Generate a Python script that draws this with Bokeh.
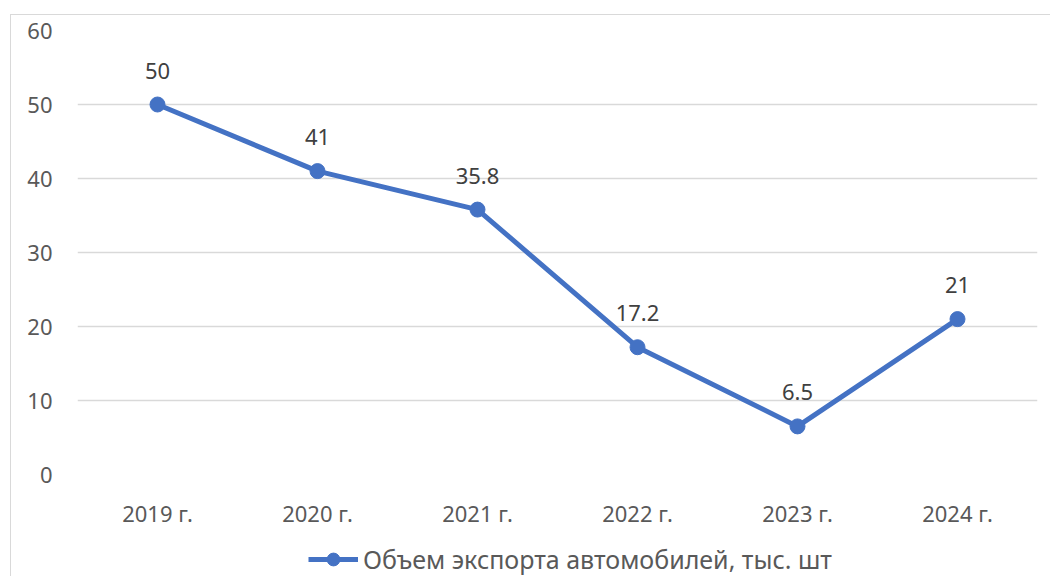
from bokeh.plotting import figure
from bokeh.models import ColumnDataSource, LabelSet, Legend, LegendItem, FactorRange, Range1d
from bokeh.layouts import column
from bokeh.core.properties import value
from bokeh.embed import file_html
from bokeh.resources import INLINE

years = ["2019 г.", "2020 г.", "2021 г.", "2022 г.", "2023 г.", "2024 г."]
values = [50, 41, 35.8, 17.2, 6.5, 21]
value_labels = ["50", "41", "35.8", "17.2", "6.5", "21"]
series_name = "Объем экспорта автомобилей, тыс. шт"

FONT = "Noto Sans"
BLUE = "#4472C4"

src = ColumnDataSource(dict(x=years, y=values, lab=value_labels))

p = figure(x_range=FactorRange(*years), y_range=Range1d(0, 60),
           width=1050, height=536, output_backend="svg", toolbar_location=None,
           min_border_left=77, min_border_right=13, min_border_top=30, min_border_bottom=62)
p.outline_line_color = None
p.background_fill_color = "white"
p.border_fill_color = None

p.xgrid.grid_line_color = None
p.ygrid.grid_line_color = "#d9d9d9"
p.ygrid.grid_line_width = 1.5
p.yaxis.ticker = [0, 10, 20, 30, 40, 50, 60]

for ax in (p.xaxis, p.yaxis):
    ax.axis_line_color = None
    ax.major_tick_line_color = None
    ax.minor_tick_line_color = None
    ax.major_tick_out = 0
    ax.major_tick_in = 0
    ax.minor_tick_out = 0
    ax.major_label_text_font = FONT
    ax.major_label_text_font_size = "22px"
    ax.major_label_text_color = "#595959"
p.xaxis.major_label_standoff = 23
p.yaxis.major_label_standoff = 25

p.line("x", "y", source=src, line_color=BLUE, line_width=5)
p.scatter("x", "y", source=src, size=15, fill_color=BLUE, line_color=BLUE)

labels = LabelSet(x="x", y="y", text="lab", source=src, y_offset=34,
                  text_align="center", text_baseline="middle",
                  text_font=value(FONT), text_font_size=value("22px"), text_color="#404040")
p.add_layout(labels)

# legend strip below the chart (series drawn out of view, only its legend is shown)
lg = figure(width=1050, height=40, output_backend="svg", toolbar_location=None,
            x_range=FactorRange(*years), y_range=Range1d(1000, 1001),
            x_axis_type=None, y_axis_type=None, min_border=0)
lg.outline_line_color = None
lg.background_fill_color = None
lg.border_fill_color = None
lg.grid.visible = False
l_ln = lg.line("x", "y", source=src, line_color=BLUE, line_width=5)
l_sc = lg.scatter("x", "y", source=src, size=14, fill_color=BLUE, line_color=BLUE)
legend = Legend(items=[LegendItem(label=series_name, renderers=[l_ln, l_sc])],
                location=(231, 0), orientation="horizontal",
                label_text_font=FONT, label_text_font_size="25px", label_text_color="#595959",
                glyph_width=50, glyph_height=32, label_standoff=5,
                border_line_color=None, background_fill_alpha=0, padding=4, margin=0)
lg.add_layout(legend)

layout = column(p, lg, spacing=0)
layout.styles = {"box-shadow": "inset 10px 14px 0 0 white, inset 11px 15px 0 0 #d9d9d9"}

open("out.html", "w").write(file_html(layout, INLINE))
